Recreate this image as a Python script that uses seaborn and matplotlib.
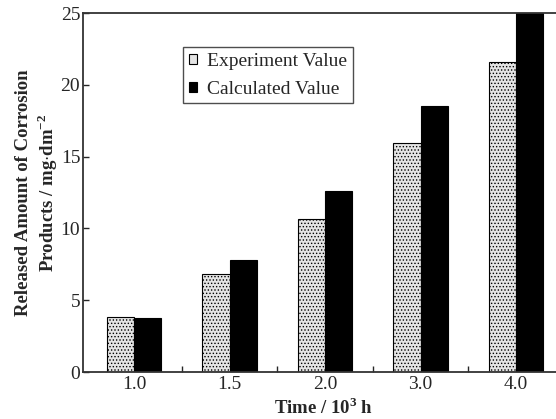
import pandas as pd
import matplotlib.pyplot as plt
import seaborn as sns
from matplotlib.ticker import FixedLocator

# data
times = ['1.0', '1.5', '2.0', '3.0', '4.0']
experiment = [3.85, 6.8, 10.65, 15.95, 21.6]
calculated = [3.78, 7.8, 12.6, 18.55, 25.0]
series = ['Experiment Value', 'Calculated Value']

df = pd.DataFrame({
    'time': times * 2,
    'value': experiment + calculated,
    'series': [series[0]] * len(times) + [series[1]] * len(times),
})

sns.set_theme(style="ticks")
plt.rcParams['font.family'] = ['Liberation Serif', 'DejaVu Serif']
plt.rcParams['mathtext.fontset'] = 'custom'
plt.rcParams['mathtext.rm'] = 'Liberation Serif'
plt.rcParams['mathtext.bf'] = 'Liberation Serif:bold'
plt.rcParams['hatch.color'] = '#777777'
plt.rcParams['hatch.linewidth'] = 0.6

fig = plt.figure(figsize=(5.56, 4.19), dpi=100)
# axes runs a little past the right edge, as in the cropped original
ax = fig.add_axes([83 / 556, 47 / 419, 481 / 556, 359 / 419])

sns.barplot(data=df, x='time', y='value', hue='series', order=times,
            hue_order=series, palette=['#e4e4e4', 'black'], width=0.57,
            edgecolor='black', linewidth=0.8, saturation=1, ax=ax)

for bar in ax.containers[0]:
    bar.set_hatch('.....')

ax.set_xlim(-0.534, 4.5)
ax.set_ylim(0, 25)
ax.set_yticks([0, 5, 10, 15, 20, 25])

ax.tick_params(axis='x', which='major', length=0, labelsize=14, pad=3)
ax.xaxis.set_minor_locator(FixedLocator([0.5, 1.5, 2.5, 3.5]))
ax.tick_params(axis='x', which='minor', direction='in', length=4, width=1)
ax.tick_params(axis='y', direction='in', length=4, width=1, labelsize=14, pad=2)

for s in ax.spines.values():
    s.set_color('#333333')
    s.set_linewidth(1.3)

ax.set_xlabel('Time / 10$^\\mathbf{3}$ h', fontsize=13.5, fontweight='bold', labelpad=3)
ax.set_ylabel('Released Amount of Corrosion\nProducts / mg$\\cdot$dm$^{\\mathbf{-2}}$',
              fontsize=13.5, fontweight='bold', linespacing=1.2)
ax.yaxis.set_label_coords(-0.047, 0.5)

leg = ax.legend(loc='upper left', bbox_to_anchor=(0.208, 0.905), borderaxespad=0,
                fontsize=14, frameon=True, fancybox=False, edgecolor='#222222',
                handlelength=0.4, handleheight=0.4, handletextpad=0.55,
                borderpad=0.3, labelspacing=0.55, title=None)
leg.get_frame().set_linewidth(1.0)

fig.savefig('out.png', dpi=100)
